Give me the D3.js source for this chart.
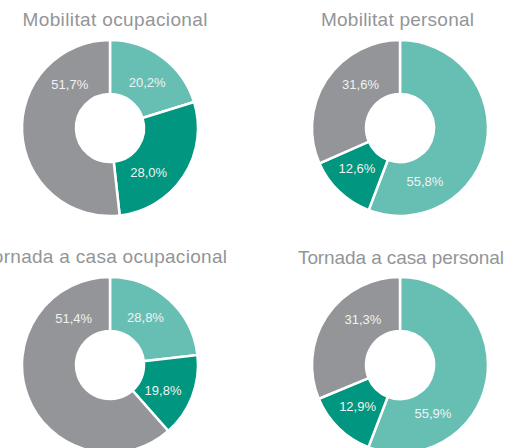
<!DOCTYPE html>
<html>
<head>
<meta charset="utf-8">
<script src="https://cdn.jsdelivr.net/npm/d3@7"></script>
<style>
  body { margin: 0; background: #fff; }
  svg { display: block; font-family: "Liberation Sans", Arial, Helvetica, sans-serif; }
  .title { fill: #939598; font-size: 19px; text-anchor: middle; }
  .pct { fill: #f2f2f2; font-size: 13px; text-anchor: middle; }
</style>
</head>
<body>
<svg id="chart"></svg>
<script>
// data
const titles = ["Mobilitat ocupacional", "Mobilitat personal", "Tornada a casa ocupacional", "Tornada a casa personal"];
const categories = ["cat1", "cat2", "cat3"];
const mobilitatOcupacional = [20.2, 28.0, 51.7];
const mobilitatPersonal = [55.8, 12.6, 31.6];
const tornadaOcupacional = [28.8, 19.8, 51.4];
const tornadaPersonal = [55.9, 12.9, 31.3];
// the source draws the "Tornada a casa ocupacional" donut with shares that
// don't match its printed labels; these are the shares
const tornadaOcupacionalDrawn = [23.2, 15.3, 61.5];

const labelSeries = [mobilitatOcupacional, mobilitatPersonal, tornadaOcupacional, tornadaPersonal];
const sliceSeries = [mobilitatOcupacional, mobilitatPersonal, tornadaOcupacionalDrawn, tornadaPersonal];

// layout (where each donut sits, and where its labels go, in degrees from top)
const width = 510, height = 448;
const panels = [
    {cx: 110, cy: 128, titleX: 115, titleY: 26, titleW: 185, labelAngles: [39, 139, 317]},
    {cx: 400, cy: 128, titleX: 397.5, titleY: 26, titleW: 153, labelAngles: [155, 227, 318]},
    {cx: 110, cy: 365, titleX: 105, titleY: 263, titleW: 244, labelAngles: [37, 116, 322]},
    {cx: 400, cy: 365, titleX: 401, titleY: 264, titleW: 206, labelAngles: [146, 226, 321]}
];
const outerR = 88, innerR = 34, labelR = 59;

const color = d3.scaleOrdinal()
    .domain(categories)
    .range(["#67bfb4", "#00967f", "#939598"]);

const locale = d3.formatLocale({decimal: ",", thousands: ".", grouping: [3], currency: ["", "€"]});
const fmt = locale.format(".1f");

const svg = d3.select("#chart")
    .attr("width", width)
    .attr("height", height);

const pie = d3.pie().sort(null).value(d => d.value);
const arc = d3.arc().innerRadius(innerR).outerRadius(outerR);

sliceSeries.forEach((vals, i) => {
    const p = panels[i];
    const rows = categories.map((c, j) => ({key: c, value: vals[j], label: labelSeries[i][j], angle: p.labelAngles[j]}));

    svg.append("text")
        .attr("class", "title")
        .attr("x", p.titleX)
        .attr("y", p.titleY)
        .attr("textLength", p.titleW)
        .attr("lengthAdjust", "spacing")
        .text(titles[i]);

    const g = svg.append("g")
        .attr("transform", `translate(${p.cx},${p.cy})`);

    g.selectAll("path")
        .data(pie(rows))
        .join("path")
        .attr("d", arc)
        .attr("fill", d => color(d.data.key))
        .attr("stroke", "#fff")
        .attr("stroke-width", 2.5);

    g.selectAll(".pct")
        .data(rows)
        .join("text")
        .attr("class", "pct")
        .attr("x", d => labelR * Math.sin(d.angle * Math.PI / 180))
        .attr("y", d => -labelR * Math.cos(d.angle * Math.PI / 180))
        .attr("dy", "0.35em")
        .text(d => fmt(d.label) + "%");
});
</script>
</body>
</html>
